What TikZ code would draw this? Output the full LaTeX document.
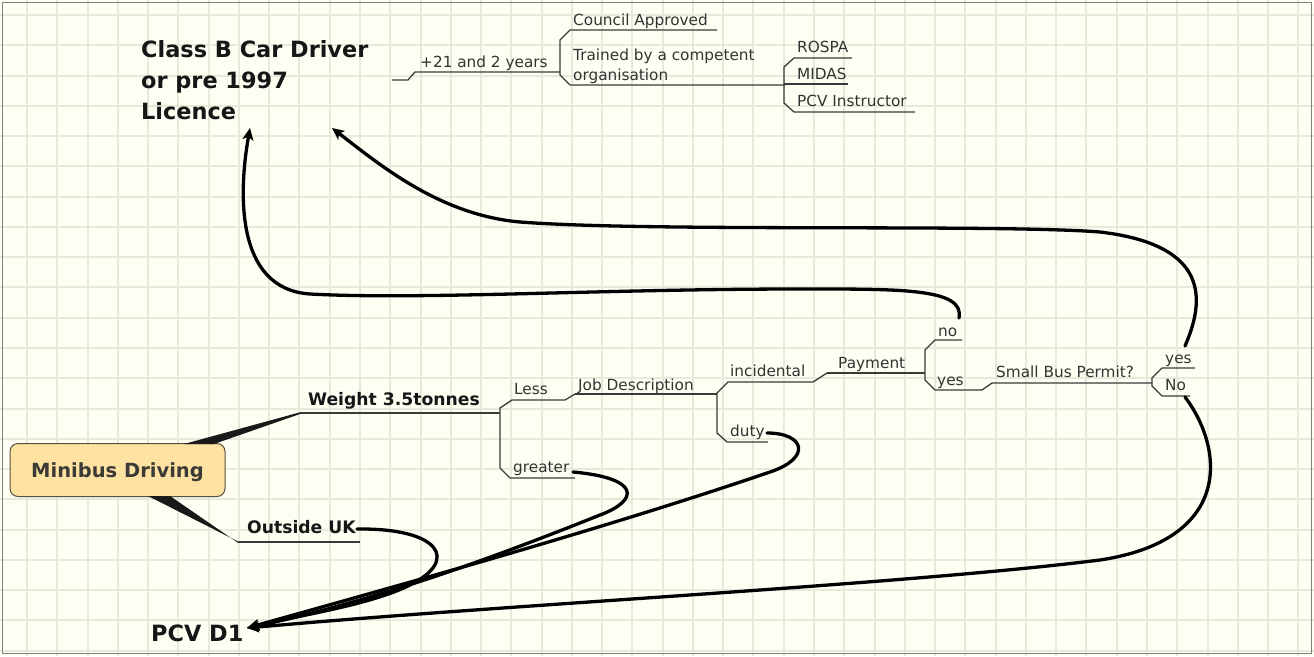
\documentclass[tikz,border=0pt]{standalone}
\usepackage{fontspec}
\setmainfont{DejaVu Sans}
\usetikzlibrary{arrows.meta}
\definecolor{bg}{HTML}{FEFEF3}
\definecolor{gridc}{HTML}{E5EADB}
\definecolor{txt}{HTML}{333333}
\definecolor{btxt}{HTML}{161616}
\definecolor{boxfill}{HTML}{FDE2A2}
\definecolor{boxdraw}{HTML}{5A5040}
\definecolor{boxtxt}{HTML}{3C3A36}
\definecolor{branch}{HTML}{3A3A3A}
\definecolor{frame}{HTML}{808080}
\tikzset{
  gridfill/.style={fill=gridc},
  lbl/.style={font=\fontsize{15.3}{20}\selectfont, text=txt, inner sep=0pt, anchor=base west},
  blbl/.style={font=\fontsize{17.2}{22}\selectfont\bfseries, text=btxt, inner sep=0pt, anchor=base west},
  biglbl/.style={font=\fontsize{22.4}{31}\selectfont\bfseries, text=btxt, inner sep=0pt},
  branchline/.style={draw=branch, line width=1.3pt},
  wedge/.style={fill=black!90},
  link/.style={draw=black, line width=3.3pt, line cap=round},
  tip/.style={-{Stealth[length=12pt,width=11pt,inset=3pt]}},
  centralbox/.style={draw=boxdraw, line width=1pt, fill=boxfill, rounded corners=8pt,
     minimum width=215pt, minimum height=53pt, inner sep=0pt, text height=15pt, text depth=0pt,
     font=\fontsize{19.5}{24}\selectfont\bfseries, text=boxtxt}
}
\begin{document}
\begin{tikzpicture}[x=1pt,y=-1pt]
\useasboundingbox (0,0) rectangle (1314,656);
\fill[bg] (0,0) rectangle (1314,656);
\foreach \i in {0,...,42} {\pgfmathsetmacro{\gx}{round(27+30.27*\i)}\fill[gridfill] (\gx-1,0) rectangle (\gx+1,656);}
\foreach \j in {0,...,21} {\pgfmathsetmacro{\gy}{round(15+30.27*\j)}\fill[gridfill] (0,\gy-1) rectangle (1314,\gy+1);}
\draw[draw=frame, line width=1.5pt] (2.5,2.5) rectangle (1311.5,653.5);

% ---------- texts ----------
\node[biglbl, align=left, anchor=north west] (classb) at (141,40) {Class B Car Driver\\or pre 1997\\Licence};
\node[lbl] (plus21) at (420,67) {+21 and 2 years};
\node[lbl] (council) at (573,25) {Council Approved};
\node[lbl, align=left, anchor=north west] (trained) at (573,48.6) {Trained by a competent\\organisation};
\node[lbl] (rospa) at (797,52) {ROSPA};
\node[lbl] (midas) at (797,79) {MIDAS};
\node[lbl] (pcvi) at (797,106) {PCV Instructor};

\node[centralbox] (minibus) at (117.5,470) {Minibus Driving};
\node[blbl] (weight) at (308,405) {Weight 3.5tonnes};
\node[blbl] (outside) at (247,533) {Outside UK};
\node[lbl] (less) at (514,394) {Less};
\node[lbl] (greater) at (513,472) {greater};
\node[lbl] (job) at (578,390) {Job Description};
\node[lbl] (incid) at (730,376) {incidental};
\node[lbl] (duty) at (730,436) {duty};
\node[lbl] (payment) at (838,368) {Payment};
\node[lbl] (no) at (938,336) {no};
\node[lbl] (yes) at (937,385) {yes};
\node[lbl] (sbp) at (996,377) {Small Bus Permit?};
\node[lbl] (yes2) at (1165,363) {yes};
\node[lbl] (No2) at (1165,390) {No};
\node[biglbl, anchor=base west] (pcvd1) at (151,641) {PCV D1};

% ---------- branch lines (underlines and brackets) ----------
\draw[branchline] (392,80) -- (408,80) -- (415,72) -- (560,72);
\draw[branchline] (717,30) -- (570,30) -- (560,40) -- (560,75) -- (570,85) -- (785,85);
\draw[branchline] (852,58) -- (794,58) -- (784,67) -- (784,103) -- (794,112) -- (915,112);
\draw[branchline] (784,84) -- (848,84);

\draw[branchline] (300,413) -- (500,413);
\draw[branchline] (575,394) -- (565,400) -- (512,400) -- (500,408) -- (500,468) -- (510,478) -- (575,478);
\draw[branchline] (575,394) -- (717,394);
\draw[branchline] (827,373) -- (813,382) -- (728,382) -- (717,393) -- (717,433) -- (727,442) -- (768,442);
\draw[branchline] (827,373) -- (925,373);
\draw[branchline] (962,340) -- (935,340) -- (925,350) -- (925,380) -- (935,390) -- (982,390) -- (992,383) -- (1152,383);
\draw[branchline] (1195,368) -- (1162,368) -- (1152,378) -- (1152,386) -- (1162,396) -- (1190,396);
\draw[branchline] (238,542) -- (360,542);

% wedges from central topic
\fill[wedge] (184,444) -- (300,412.3) -- (300,414) -- (214,444) -- cycle;
\fill[wedge] (148,496) -- (238,541.5) -- (238,542.8) -- (170,496) -- cycle;

% ---------- curved links ----------
\coordinate (noS) at (959,318);
\coordinate (yesS) at (1185,346);
\coordinate (NoS) at (1185,397);
\coordinate (dutyS) at (767,433);
\coordinate (greaterS) at (573,472);
\coordinate (outS) at (357,529);
\coordinate (classbA) at (250,128);
\coordinate (classbB) at (332,128);
\coordinate (pcvA) at (247,628);

\draw[link, tip] (noS) .. controls (965,288) and (900,289) .. (800,289)
   .. controls (600,289) and (420,300) .. (310,294)
   .. controls (234,289) and (239,190) .. (classbA);
\draw[link, tip] (yesS) .. controls (1205,300) and (1210,245) .. (1100,232)
   .. controls (1000,224) and (650,232) .. (520,222)
   .. controls (440,215) and (380,165) .. (classbB);
\draw[link, tip] (NoS) .. controls (1225,450) and (1232,540) .. (1100,560)
   .. controls (900,585) and (500,605) .. (pcvA);
\draw[link, tip] (dutyS) .. controls (805,433) and (812,458) .. (770,472)
   .. controls (600,530) and (400,585) .. (pcvA);
\draw[link, tip] (greaterS) .. controls (640,478) and (640,500) .. (600,515)
   .. controls (500,555) and (380,600) .. (pcvA);
\draw[link, tip] (outS) .. controls (440,528) and (460,560) .. (410,585)
   .. controls (370,605) and (300,615) .. (pcvA);
\end{tikzpicture}
\end{document}
